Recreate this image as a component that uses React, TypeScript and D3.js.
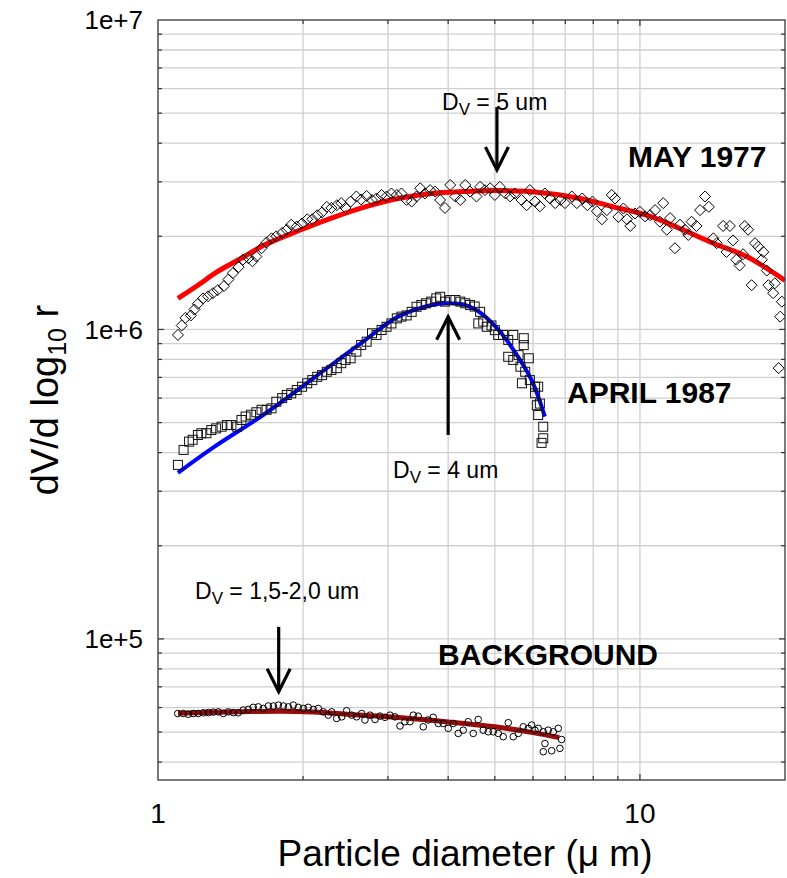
import React from "react";
import * as d3 from "d3";

// ---------- data ----------
const xTickValues = [1, 10];
const xTickLabels = ["1", "10"];
const yTickValues = [1e5, 1e6, 1e7];
const yTickLabels = ["1e+5", "1e+6", "1e+7"];

// MAY 1977 measurements [diameter um, dV/dlog r]
const may1977: [number, number][] = [
  [1.10,0.96e6],[1.12,1.03e6],[1.14,1.09e6],[1.17,1.11e6],[1.19,1.16e6],[1.21,1.21e6],[1.24,1.26e6],[1.27,1.28e6],
  [1.30,1.31e6],[1.33,1.34e6],[1.37,1.38e6],[1.40,1.45e6],[1.43,1.52e6],[1.47,1.59e6],[1.50,1.68e6],[1.54,1.70e6],
  [1.57,1.66e6],[1.60,1.72e6],[1.64,1.83e6],[1.68,1.91e6],[1.72,1.97e6],[1.76,2.00e6],[1.81,2.05e6],[1.85,2.10e6],
  [1.89,2.18e6],[1.94,2.15e6],[1.99,2.20e6],[2.04,2.27e6],[2.09,2.27e6],[2.14,2.34e6],[2.19,2.39e6],[2.24,2.49e6],
  [2.29,2.47e6],[2.35,2.52e6],[2.40,2.56e6],[2.45,2.47e6],[2.51,2.59e6],[2.58,2.69e6],[2.64,2.63e6],[2.71,2.70e6],
  [2.78,2.62e6],[2.84,2.65e6],[2.91,2.72e6],[2.98,2.69e6],[3.05,2.75e6],[3.13,2.72e6],[3.20,2.75e6],[3.28,2.62e6],
  [3.36,2.59e6],[3.44,2.69e6],[3.50,2.86e6],[3.58,2.75e6],[3.67,2.82e6],[3.76,2.79e6],[3.85,2.62e6],[3.94,2.47e6],
  [4.04,2.93e6],[4.14,2.69e6],[4.24,2.62e6],[4.34,2.93e6],[4.44,2.79e6],[4.58,2.69e6],[4.66,2.89e6],[4.77,2.82e6],
  [4.89,2.86e6],[5.00,2.72e6],[5.12,2.89e6],[5.26,2.75e6],[5.38,2.69e6],[5.50,2.75e6],[5.68,2.62e6],[5.82,2.52e6],
  [5.91,2.82e6],[6.06,2.59e6],[6.20,2.50e6],[6.35,2.75e6],[6.51,2.65e6],[6.67,2.56e6],[6.84,2.62e6],[6.99,2.56e6],
  [7.22,2.69e6],[7.40,2.56e6],[7.59,2.65e6],[7.78,2.52e6],[7.97,2.59e6],[8.14,2.41e6],[8.34,2.27e6],[8.54,2.43e6],
  [8.74,2.72e6],[8.88,2.65e6],[9.02,2.31e6],[9.24,2.46e6],[9.40,2.27e6],[9.55,2.16e6],[9.77,2.37e6],[10.0,2.40e6],
  [10.25,2.32e6],[10.5,2.34e6],[10.75,2.43e6],[11.0,2.23e6],[11.18,2.56e6],[11.37,2.10e6],[11.55,2.29e6],[11.82,1.83e6],
  [12.11,2.18e6],[12.4,2.10e6],[12.6,2.02e6],[12.8,2.23e6],[13.1,2.16e6],[13.33,2.43e6],[13.65,2.69e6],[13.9,2.49e6],
  [14.2,1.97e6],[14.43,1.90e6],[14.88,2.16e6],[15.12,1.78e6],[15.37,2.16e6],[15.6,1.94e6],[15.85,1.68e6],[16.1,1.61e6],
  [16.37,1.75e6],[16.5,2.16e6],[16.77,2.10e6],[17.05,1.39e6],[17.33,1.90e6],[17.6,1.85e6],[17.9,1.68e6],[18.03,1.78e6],
  [18.33,1.55e6],[18.47,1.39e6],[18.9,1.31e6],[19.05,1.41e6],[19.55,1.10e6],[19.7,1.23e6],[19.4,0.75e6],
];
const may1977Fit: [number, number][] = [
  [1.10,1.26e6],[1.21,1.39e6],[1.33,1.54e6],[1.47,1.68e6],[1.67,1.88e6],[1.95,2.08e6],[2.29,2.29e6],[2.69,2.49e6],
  [3.15,2.65e6],[3.70,2.75e6],[4.34,2.79e6],[5.0,2.81e6],[5.91,2.79e6],[7.52,2.65e6],[8.81,2.49e6],[10.33,2.34e6],
  [12.11,2.12e6],[14.2,1.90e6],[16.65,1.72e6],[20,1.44e6],
];

// APRIL 1987
const april1987: [number, number][] = [
  [1.10,0.365e6],[1.13,0.408e6],[1.16,0.434e6],[1.18,0.44e6],[1.21,0.456e6],[1.23,0.462e6],[1.26,0.462e6],[1.29,0.473e6],
  [1.32,0.479e6],[1.355,0.485e6],[1.39,0.491e6],[1.42,0.491e6],[1.46,0.485e6],[1.49,0.51e6],[1.52,0.523e6],[1.56,0.53e6],
  [1.60,0.54e6],[1.64,0.55e6],[1.68,0.55e6],[1.72,0.556e6],[1.76,0.584e6],[1.81,0.60e6],[1.85,0.614e6],[1.89,0.622e6],
  [1.94,0.637e6],[1.99,0.653e6],[2.04,0.67e6],[2.09,0.686e6],[2.14,0.703e6],[2.19,0.712e6],[2.24,0.73e6],[2.29,0.74e6],
  [2.35,0.75e6],[2.40,0.778e6],[2.45,0.797e6],[2.51,0.807e6],[2.58,0.848e6],[2.64,0.891e6],[2.71,0.913e6],[2.78,0.972e6],
  [2.84,0.96e6],[2.91,0.996e6],[2.98,1.02e6],[3.05,1.046e6],[3.13,1.086e6],[3.20,1.10e6],[3.28,1.11e6],[3.36,1.14e6],
  [3.44,1.184e6],[3.52,1.20e6],[3.60,1.215e6],[3.69,1.23e6],[3.78,1.26e6],[3.85,1.275e6],[3.94,1.23e6],[4.04,1.245e6],
  [4.14,1.245e6],[4.24,1.23e6],[4.34,1.215e6],[4.44,1.20e6],[4.54,1.186e6],[4.66,1.14e6],[4.62,1.046e6],[4.73,1.06e6],
  [4.81,1.02e6],[4.92,1.03e6],[5.00,0.995e6],[5.08,0.96e6],[5.20,0.96e6],[5.33,0.925e6],[5.46,0.96e6],[5.74,0.937e6],
  [5.74,0.89e6],[5.33,0.816e6],[5.46,0.797e6],[5.60,0.826e6],[5.88,0.807e6],[5.65,0.758e6],[5.78,0.73e6],[5.69,0.67e6],
  [5.91,0.686e6],[6.06,0.653e6],[6.15,0.653e6],[6.06,0.622e6],[6.11,0.569e6],[6.20,0.576e6],[6.15,0.529e6],[6.30,0.485e6],
  [6.30,0.445e6],[6.25,0.43e6],
];
const april1987Fit: [number, number][] = [
  [1.10,0.344e6],[1.31,0.418e6],[1.67,0.535e6],[2.12,0.703e6],[2.69,0.924e6],[3.15,1.10e6],[3.70,1.20e6],
  [4.0,1.215e6],[4.34,1.20e6],[4.69,1.126e6],[5.09,0.996e6],[5.5,0.847e6],[5.96,0.686e6],[6.35,0.523e6],
];

// BACKGROUND
const background: [number, number][] = [
  [1.099,5.74e4],[1.128,5.74e4],[1.156,5.71e4],[1.184,5.74e4],[1.212,5.74e4],[1.242,5.77e4],[1.272,5.78e4],[1.302,5.80e4],
  [1.334,5.81e4],[1.366,5.74e4],[1.399,5.81e4],[1.433,5.78e4],[1.467,5.77e4],[1.503,5.89e4],[1.539,5.92e4],[1.576,6.01e4],
  [1.615,6.03e4],[1.654,5.96e4],[1.694,6.07e4],[1.735,6.07e4],[1.777,6.11e4],[1.820,6.07e4],[1.864,6.03e4],[1.909,6.11e4],
  [1.955,6.01e4],[2.003,5.96e4],[2.050,6.01e4],[2.100,5.92e4],[2.151,5.96e4],[2.203,5.81e4],[2.256,5.67e4],[2.293,5.81e4],
  [2.348,5.53e4],[2.405,5.60e4],[2.463,5.86e4],[2.523,5.67e4],[2.583,5.60e4],[2.646,5.74e4],[2.688,5.47e4],[2.754,5.67e4],
  [2.820,5.49e4],[2.888,5.63e4],[2.958,5.58e4],[3.030,5.67e4],[3.103,5.60e4],[3.178,5.23e4],[3.254,5.40e4],[3.333,5.40e4],
  [3.386,5.67e4],[3.467,5.63e4],[3.551,5.20e4],[3.637,5.47e4],[3.725,5.58e4],[3.815,5.33e4],[3.907,5.33e4],[4.002,5.14e4],
  [4.099,5.33e4],[4.198,4.95e4],[4.299,5.07e4],[4.403,5.40e4],[4.510,4.95e4],[4.618,5.49e4],[4.730,5.07e4],[4.845,5.01e4],
  [4.962,5.01e4],[5.082,4.95e4],[5.205,4.83e4],[5.331,5.36e4],[5.460,4.83e4],[5.592,4.95e4],[5.727,5.20e4],[5.866,5.14e4],
  [5.961,5.27e4],[6.057,5.07e4],[6.152,5.14e4],[6.301,5.01e4],[6.454,5.07e4],[6.611,5.01e4],[6.770,5.14e4],[6.352,4.59e4],
  [6.301,4.32e4],[6.559,4.35e4],[6.823,4.43e4],[6.879,4.73e4],
];
const backgroundFit: [number, number][] = [
  [1.1,5.75e4],[1.5,5.82e4],[1.8,5.84e4],[2.1,5.8e4],[2.5,5.7e4],[3,5.6e4],[4,5.39e4],[5,5.2e4],[6,4.98e4],[6.8,4.8e4],
];

// arrows: [diameter, tail value, tip value]
const arrows: [number, number, number][] = [
  [5.05, 5.23e6, 3.275e6],
  [4.0, 4.56e5, 1.099e6],
  [1.78, 1.094e5, 6.75e4],
];

const FONT = "'Liberation Sans', Arial, Helvetica, sans-serif";

export default function App() {
  const W = 787, H = 878;
  const L = 158, R = 785, T = 20, B = 780;
  const x = d3.scaleLog().domain([1, 20]).range([L, R]);
  const y = d3.scaleLog().domain([3.5e4, 1e7]).range([B, T]);

  const xGrid = [2, 3, 4, 5, 6, 7, 8, 9, 10];
  const yGrid: number[] = [];
  [1e4, 1e5, 1e6].forEach((dec) => {
    for (let k = 1; k <= 9; k++) {
      const v = dec * k;
      if (v > 3.5e4 && v < 1e7) yGrid.push(v);
    }
  });

  const line = d3
    .line<[number, number]>()
    .x((d) => x(d[0]))
    .y((d) => y(d[1]))
    .curve(d3.curveCatmullRom);

  const gridColor = "#cfcfcf";
  const axisColor = "#333";

  return (
    <svg width={W} height={H} style={{ position: "absolute", left: 0, top: 0, background: "#fff" }} fontFamily={FONT}>
      <style>{`body{margin:0}`}</style>
      <defs>
        <clipPath id="plot">
          <rect x={L} y={T} width={R - L} height={B - T} />
        </clipPath>
      </defs>
      <rect x={0} y={0} width={W} height={H} fill="#fff" />
      {/* grid */}
      {xGrid.map((v) => (
        <line key={"gx" + v} x1={x(v)} x2={x(v)} y1={T} y2={B} stroke={gridColor} strokeWidth={1.3} />
      ))}
      {yGrid.map((v) => (
        <line key={"gy" + v} x1={L} x2={R} y1={y(v)} y2={y(v)} stroke={gridColor} strokeWidth={1.3} />
      ))}
      {/* ticks inward */}
      {xGrid.map((v) => {
        const len = v === 10 ? 6 : 4;
        return (
          <g key={"tx" + v}>
            <line x1={x(v)} x2={x(v)} y1={B} y2={B - len} stroke={axisColor} strokeWidth={1.2} />
            <line x1={x(v)} x2={x(v)} y1={T} y2={T + len} stroke={axisColor} strokeWidth={1.2} />
          </g>
        );
      })}
      {yGrid.map((v) => {
        const len = v === 1e5 || v === 1e6 ? 6 : 4;
        return (
          <g key={"ty" + v}>
            <line x1={L} x2={L + len} y1={y(v)} y2={y(v)} stroke={axisColor} strokeWidth={1.2} />
            <line x1={R} x2={R - len} y1={y(v)} y2={y(v)} stroke={axisColor} strokeWidth={1.2} />
          </g>
        );
      })}
      {/* data */}
      <g clipPath="url(#plot)">
        <path d={line(may1977Fit) || ""} fill="none" stroke="#ff0000" strokeWidth={5} />
        {may1977.map((p, i) => (
          <path
            key={"m" + i}
            transform={`translate(${x(p[0])},${y(p[1])})`}
            d="M0,-5.5L5.5,0L0,5.5L-5.5,0Z"
            fill="none"
            stroke="#000"
            strokeWidth={1}
          />
        ))}
        <path d={line(april1987Fit) || ""} fill="none" stroke="#0000ff" strokeWidth={4} />
        {april1987.map((p, i) => (
          <rect
            key={"a" + i}
            x={x(p[0]) - 4.5}
            y={y(p[1]) - 4.5}
            width={9}
            height={9}
            fill="none"
            stroke="#111"
            strokeWidth={1}
          />
        ))}
        <path d={line(backgroundFit) || ""} fill="none" stroke="#9a0a0a" strokeWidth={5} />
        {background.map((p, i) => (
          <circle key={"b" + i} cx={x(p[0])} cy={y(p[1])} r={3.3} fill="none" stroke="#000" strokeWidth={1} />
        ))}
      </g>
      {/* frame */}
      <rect x={L} y={T} width={R - L} height={B - T} fill="none" stroke={axisColor} strokeWidth={1.3} />
      {/* tick labels */}
      {yTickValues.map((v, i) => (
        <text key={"yl" + v} x={143} y={y(v)} dy="0.35em" textAnchor="end" fontSize={26} fill="#000">
          {yTickLabels[i]}
        </text>
      ))}
      {xTickValues.map((v, i) => (
        <text key={"xl" + v} x={x(v)} y={823} textAnchor="middle" fontSize={28} fill="#000">
          {xTickLabels[i]}
        </text>
      ))}
      {/* axis titles */}
      <text x={465} y={866} textAnchor="middle" fontSize={37} fill="#000">
        Particle diameter (μ m)
      </text>
      <text transform="translate(58,400) rotate(-90)" textAnchor="middle" fontSize={38} fill="#000">
        dV/d log<tspan fontSize={25} dy={8}>10</tspan>
        <tspan dy={-8}> r</tspan>
      </text>
      {/* arrows */}
      {arrows.map((a, i) => {
        const ax = x(a[0]);
        const y1 = y(a[1]);
        const y2 = y(a[2]);
        const dir = y2 > y1 ? 1 : -1;
        return (
          <g key={"ar" + i} stroke="#000" strokeWidth={3.2} fill="none">
            <line x1={ax} x2={ax} y1={y1} y2={y2} />
            <path d={`M${ax - 11.5},${y2 - dir * 23}L${ax},${y2}L${ax + 11.5},${y2 - dir * 23}`} />
          </g>
        );
      })}
      {/* annotations */}
      <text x={442} y={110} fontSize={23} fill="#000">
        D<tspan fontSize={17} dy={5}>V</tspan>
        <tspan dy={-5}> = 5 um</tspan>
      </text>
      <text x={393} y={478} fontSize={23} fill="#000">
        D<tspan fontSize={17} dy={5}>V</tspan>
        <tspan dy={-5}> = 4 um</tspan>
      </text>
      <text x={195} y={599} fontSize={23} fill="#000">
        D<tspan fontSize={17} dy={5}>V</tspan>
        <tspan dy={-5}> = 1,5-2,0 um</tspan>
      </text>
      <text x={628} y={167} fontSize={30} fontWeight="bold" fill="#000">MAY 1977</text>
      <text x={567} y={403} fontSize={30} fontWeight="bold" fill="#000">APRIL 1987</text>
      <text x={438} y={665} fontSize={30} fontWeight="bold" fill="#000">BACKGROUND</text>
    </svg>
  );
}
